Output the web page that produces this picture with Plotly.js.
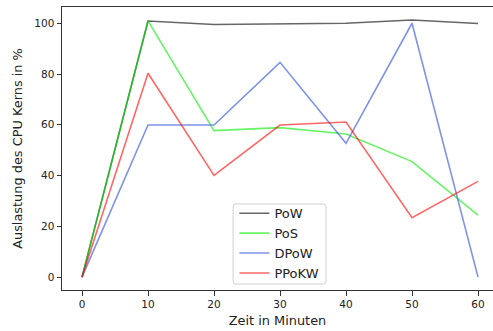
<!DOCTYPE html>
<html>
<head>
<meta charset="utf-8">
<script src="https://cdn.plot.ly/plotly-3.0.1.min.js"></script>
<style>
  html, body { margin: 0; padding: 0; background: #ffffff; }
  #chart { width: 493px; height: 331px; }
</style>
</head>
<body>
<div id="chart"></div>
<script>
// Zeitpunkte der Messungen (Minuten)
const minutes = [0, 10, 20, 30, 40, 50, 60];

// CPU-Auslastung je Konsensverfahren (%)
const pow   = [0, 100.9, 99.5, 99.8, 100.0, 101.3, 99.9];
const pos   = [0, 100.9, 57.7, 58.9, 56.4, 45.5, 24.4];
const dpow  = [0, 59.9, 59.9, 84.6, 52.7, 100.0, 0];
const ppokw = [0, 80.3, 40.1, 59.9, 61.1, 23.4, 37.7];

const seriesNames = ['PoW', 'PoS', 'DPoW', 'PPoKW'];
const xTicks = [0, 10, 20, 30, 40, 50, 60];
const yTicks = [0, 20, 40, 60, 80, 100];

const font = 'DejaVu Sans, sans-serif';

function line(y, name, color) {
  return {
    x: minutes, y: y, name: name, type: 'scatter', mode: 'lines',
    line: { color: color, width: 1.6 }
  };
}

const traces = [
  line(pow,   seriesNames[0], 'rgba(0,0,0,0.6)'),
  line(pos,   seriesNames[1], 'rgba(0,235,0,0.6)'),
  line(dpow,  seriesNames[2], 'rgba(65,95,225,0.68)'),
  line(ppokw, seriesNames[3], 'rgba(255,0,0,0.6)')
];

// Rounded legend frame, in paper coordinates
function roundedRect(x0, y0, x1, y1, rx, ry) {
  return 'M' + (x0 + rx) + ',' + y0 +
    ' L' + (x1 - rx) + ',' + y0 + ' Q' + x1 + ',' + y0 + ' ' + x1 + ',' + (y0 + ry) +
    ' L' + x1 + ',' + (y1 - ry) + ' Q' + x1 + ',' + y1 + ' ' + (x1 - rx) + ',' + y1 +
    ' L' + (x0 + rx) + ',' + y1 + ' Q' + x0 + ',' + y1 + ' ' + x0 + ',' + (y1 - ry) +
    ' L' + x0 + ',' + (y0 + ry) + ' Q' + x0 + ',' + y0 + ' ' + (x0 + rx) + ',' + y0 + ' Z';
}

const layout = {
  width: 493, height: 331,
  margin: { l: 62, r: 0, t: 7, b: 41, pad: 0 },
  paper_bgcolor: '#ffffff', plot_bgcolor: '#ffffff',
  font: { family: font, color: '#222', size: 10.5 },
  showlegend: true,
  legend: {
    x: 0.400, y: 0.006, xanchor: 'left', yanchor: 'bottom',
    bgcolor: 'rgba(255,255,255,0)', borderwidth: 0,
    font: { family: font, size: 13, color: '#222' },
    tracegroupgap: 0
  },
  shapes: [{
    type: 'path', xref: 'paper', yref: 'paper', layer: 'above',
    path: roundedRect(0.397, 0.0212, 0.6125, 0.304, 2.5 / 431, 2.5 / 283),
    fillcolor: 'rgba(255,255,255,0.85)',
    line: { color: '#d0d0d0', width: 1 }
  }],
  xaxis: {
    range: [-3.03, 62.27],
    tickvals: xTicks, ticktext: xTicks.map(String),
    ticks: 'outside', ticklen: 4.5, tickwidth: 1, tickcolor: '#333',
    showline: true, linecolor: '#333', linewidth: 1, mirror: true,
    showgrid: false, zeroline: false,
    tickfont: { family: font, size: 10.5, color: '#222' },
    title: { text: 'Zeit in Minuten', font: { family: font, size: 12.9, color: '#222' }, standoff: 6 }
  },
  yaxis: {
    range: [-5.07, 106.4],
    tickvals: yTicks, ticktext: yTicks.map(String),
    ticks: 'outside', ticklen: 4.5, tickwidth: 1, tickcolor: '#333',
    showline: true, linecolor: '#333', linewidth: 1, mirror: false,
    showgrid: false, zeroline: false,
    tickfont: { family: font, size: 10.5, color: '#222' },
    title: { text: 'Auslastung des CPU Kerns in %', font: { family: font, size: 12.9, color: '#222' }, standoff: 8 }
  }
};

Plotly.newPlot('chart', traces, layout, { staticPlot: true, displayModeBar: false });
</script>
</body>
</html>
